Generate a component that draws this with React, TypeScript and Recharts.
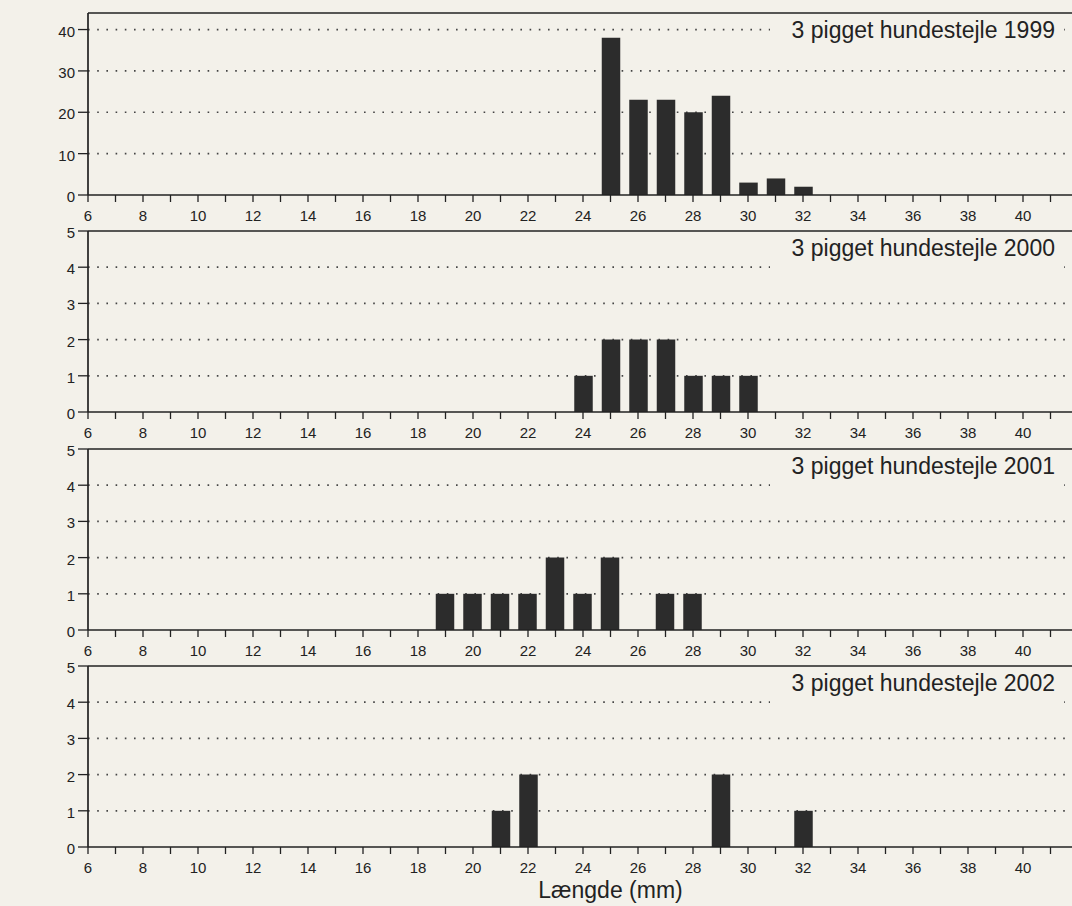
import React from "react";
import { BarChart, Bar, XAxis, YAxis, CartesianGrid, ReferenceLine } from "recharts";

// Length distribution (mm) of three-spined stickleback, one panel per year
const LENGTHS_1999 = [25, 26, 27, 28, 29, 30, 31, 32];
const COUNTS_1999 = [38, 23, 23, 20, 24, 3, 4, 2];

const LENGTHS_2000 = [24, 25, 26, 27, 28, 29, 30];
const COUNTS_2000 = [1, 2, 2, 2, 1, 1, 1];

const LENGTHS_2001 = [19, 20, 21, 22, 23, 24, 25, 27, 28];
const COUNTS_2001 = [1, 1, 1, 1, 2, 1, 2, 1, 1];

const LENGTHS_2002 = [21, 22, 29, 32];
const COUNTS_2002 = [1, 2, 2, 1];

const YEARS = ["1999", "2000", "2001", "2002"];
const X_TICKS = Array.from({ length: 39 }, (_, i) => 6 + i);
const Y_TICKS_BIG = [0, 10, 20, 30, 40];
const Y_TICKS_SMALL = [0, 1, 2, 3, 4, 5];

const BG = "#f3f1ea";
const INK = "#222";
const BAR = "#2c2c2c";
const FONT = "'Liberation Sans', Arial, Helvetica, sans-serif";
const TICK_FONT = 15;

const CHART_W = 1133;
const PAD_TOP = 10;

type Row = { len: number; n: number };

const toRows = (lens: number[], counts: number[]): Row[] =>
  lens.map((len, i) => ({ len, n: counts[i] }));

const panels = [
  { year: YEARS[0], rows: toRows(LENGTHS_1999, COUNTS_1999), yMax: 44, yTicks: Y_TICKS_BIG, top: 13, h: 182 },
  { year: YEARS[1], rows: toRows(LENGTHS_2000, COUNTS_2000), yMax: 5, yTicks: Y_TICKS_SMALL, top: 231, h: 181 },
  { year: YEARS[2], rows: toRows(LENGTHS_2001, COUNTS_2001), yMax: 5, yTicks: Y_TICKS_SMALL, top: 449, h: 181 },
  { year: YEARS[3], rows: toRows(LENGTHS_2002, COUNTS_2002), yMax: 5, yTicks: Y_TICKS_SMALL, top: 666, h: 181 },
];

// only even lengths up to 40 get a label; every integer keeps its tick mark
const XTick = (props: any) => {
  const { x, y, payload } = props;
  const v = payload.value as number;
  if (v % 2 !== 0 || v > 40) return null;
  return (
    <text x={x} y={y + 16} textAnchor="middle" fill={INK} fontSize={TICK_FONT} fontFamily={FONT}>
      {v}
    </text>
  );
};

const YTick = (props: any) => {
  const { x, y, payload } = props;
  return (
    <text x={x} y={y + 7} textAnchor="end" fill={INK} fontSize={TICK_FONT} fontFamily={FONT}>
      {payload.value}
    </text>
  );
};

function Panel({
  year,
  rows,
  yMax,
  yTicks,
  top,
  h,
  last,
}: {
  year: string;
  rows: Row[];
  yMax: number;
  yTicks: number[];
  top: number;
  h: number;
  last: boolean;
}) {
  const axisH = last ? 60 : 30;
  const gridValues = yTicks.filter((t) => t > 0 && t < yMax - 0.5);
  return (
    <>
      <div style={{ position: "absolute", left: 0, top: top - PAD_TOP }}>
        <BarChart
          width={CHART_W}
          height={PAD_TOP + h + axisH}
          data={rows}
          margin={{ top: PAD_TOP, right: 0, left: 0, bottom: 0 }}
          barSize={18.5}
        >
          <CartesianGrid
            vertical={false}
            horizontalValues={gridValues}
            stroke="#444"
            strokeWidth={1.7}
            strokeDasharray="1.6 7.6"
          />
          <XAxis
            type="number"
            dataKey="len"
            domain={[6, 44]}
            ticks={X_TICKS}
            interval={0}
            allowDataOverflow
            axisLine={{ stroke: INK, strokeWidth: 1.7 }}
            tickLine={{ stroke: INK, strokeWidth: 1.3 }}
            tickSize={7}
            tickMargin={3}
            tick={XTick}
            height={axisH}
            label={
              last
                ? {
                    value: "Længde (mm)",
                    position: "insideBottom",
                    offset: 9,
                    fill: INK,
                    fontSize: 23,
                    fontFamily: FONT,
                  }
                : undefined
            }
          />
          <YAxis
            type="number"
            domain={[0, yMax]}
            ticks={yTicks}
            interval={0}
            width={88}
            axisLine={{ stroke: INK, strokeWidth: 1.7 }}
            tickLine={{ stroke: INK, strokeWidth: 1.3 }}
            tickSize={10}
            tickMargin={3}
            tick={YTick}
          />
          <ReferenceLine y={yMax} stroke={INK} strokeWidth={1.7} />
          <Bar dataKey="n" fill={BAR} isAnimationActive={false} />
        </BarChart>
      </div>
      <div
        style={{
          position: "absolute",
          left: 770,
          top: top + 2,
          width: 294,
          height: 40,
          background: BG,
          textAlign: "right",
          paddingRight: 9,
          boxSizing: "border-box",
          fontFamily: FONT,
          fontSize: 23,
          lineHeight: "30px",
          color: INK,
          whiteSpace: "nowrap",
        }}
      >
        3 pigget hundestejle {year}
      </div>
    </>
  );
}

export default function App() {
  return (
    <div
      style={{
        position: "fixed",
        left: 0,
        top: 0,
        width: 1072,
        height: 906,
        overflow: "hidden",
        background: BG,
      }}
    >
      {panels.map((p, i) => (
        <Panel key={p.year} {...p} last={i === panels.length - 1} />
      ))}
    </div>
  );
}
